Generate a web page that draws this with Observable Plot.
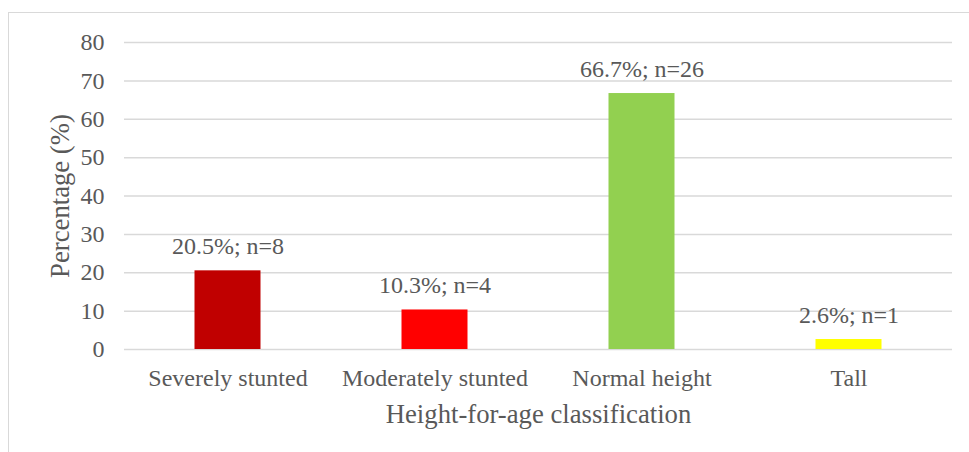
<!DOCTYPE html>
<html>
<head>
<meta charset="utf-8">
<script src="https://cdn.jsdelivr.net/npm/d3@7"></script>
<script src="https://cdn.jsdelivr.net/npm/@observablehq/plot@0.6"></script>
<style>
  html, body { margin: 0; padding: 0; background: #fff; }
  #wrap { position: relative; width: 969px; height: 452px; overflow: hidden; }
  #border { position: absolute; left: 8px; top: 12px; width: 970px; height: 460px; border: 1px solid #d9d9d9; box-sizing: border-box; }
  #chart { position: absolute; left: 0; top: 0; }
</style>
</head>
<body>
<div id="wrap"><div id="border"></div><div id="chart"></div></div>
<script>
const categories = ["Severely stunted", "Moderately stunted", "Normal height", "Tall"];
const percentages = [20.5, 10.3, 66.7, 2.6];
const counts = [8, 4, 26, 1];
const barColors = ["#C00000", "#FF0000", "#92D050", "#FFFF00"];
const yTicks = [0, 10, 20, 30, 40, 50, 60, 70, 80];

const data = categories.map((c, i) => ({
  category: c,
  value: percentages[i],
  label: `${percentages[i]}%; n=${counts[i]}`,
  color: barColors[i]
}));

const font = "Liberation Serif";
const gray = "#595959";

const chart = Plot.plot({
  width: 969,
  height: 452,
  marginLeft: 124,
  marginRight: 17,
  marginTop: 42,
  marginBottom: 103,
  style: { fontFamily: font, fontSize: "24px", color: gray, background: "transparent" },
  x: { domain: categories, padding: 0, label: null },
  y: { domain: [0, 80], label: null },
  marks: [
    Plot.gridY(yTicks, { stroke: "#d9d9d9", strokeOpacity: 1, strokeWidth: 1.5 }),
    Plot.barY(data, { x: "category", y: "value", fill: "color", insetLeft: 70.5, insetRight: 70.5 }),
    Plot.text(data, { x: "category", y: "value", text: "label", lineAnchor: "bottom", dy: -17, fill: gray, fontSize: 24, fontFamily: font }),
    Plot.axisY({ ticks: yTicks, tickSize: 0, tickPadding: 20, label: null, fill: gray, fontSize: 24, fontFamily: font }),
    Plot.axisX({ tickSize: 0, tickPadding: 19, label: null, fill: gray, fontSize: 24, fontFamily: font }),
    Plot.text(["Height-for-age classification"], { frameAnchor: "bottom", dy: 65, lineAnchor: "middle", fill: gray, fontSize: 26.7, fontFamily: font }),
    Plot.text(["Percentage (%)"], { frameAnchor: "left", dx: -64, rotate: -90, textAnchor: "middle", lineAnchor: "middle", fill: gray, fontSize: 26.7, fontFamily: font })
  ]
});
document.getElementById("chart").appendChild(chart);
</script>
</body>
</html>
